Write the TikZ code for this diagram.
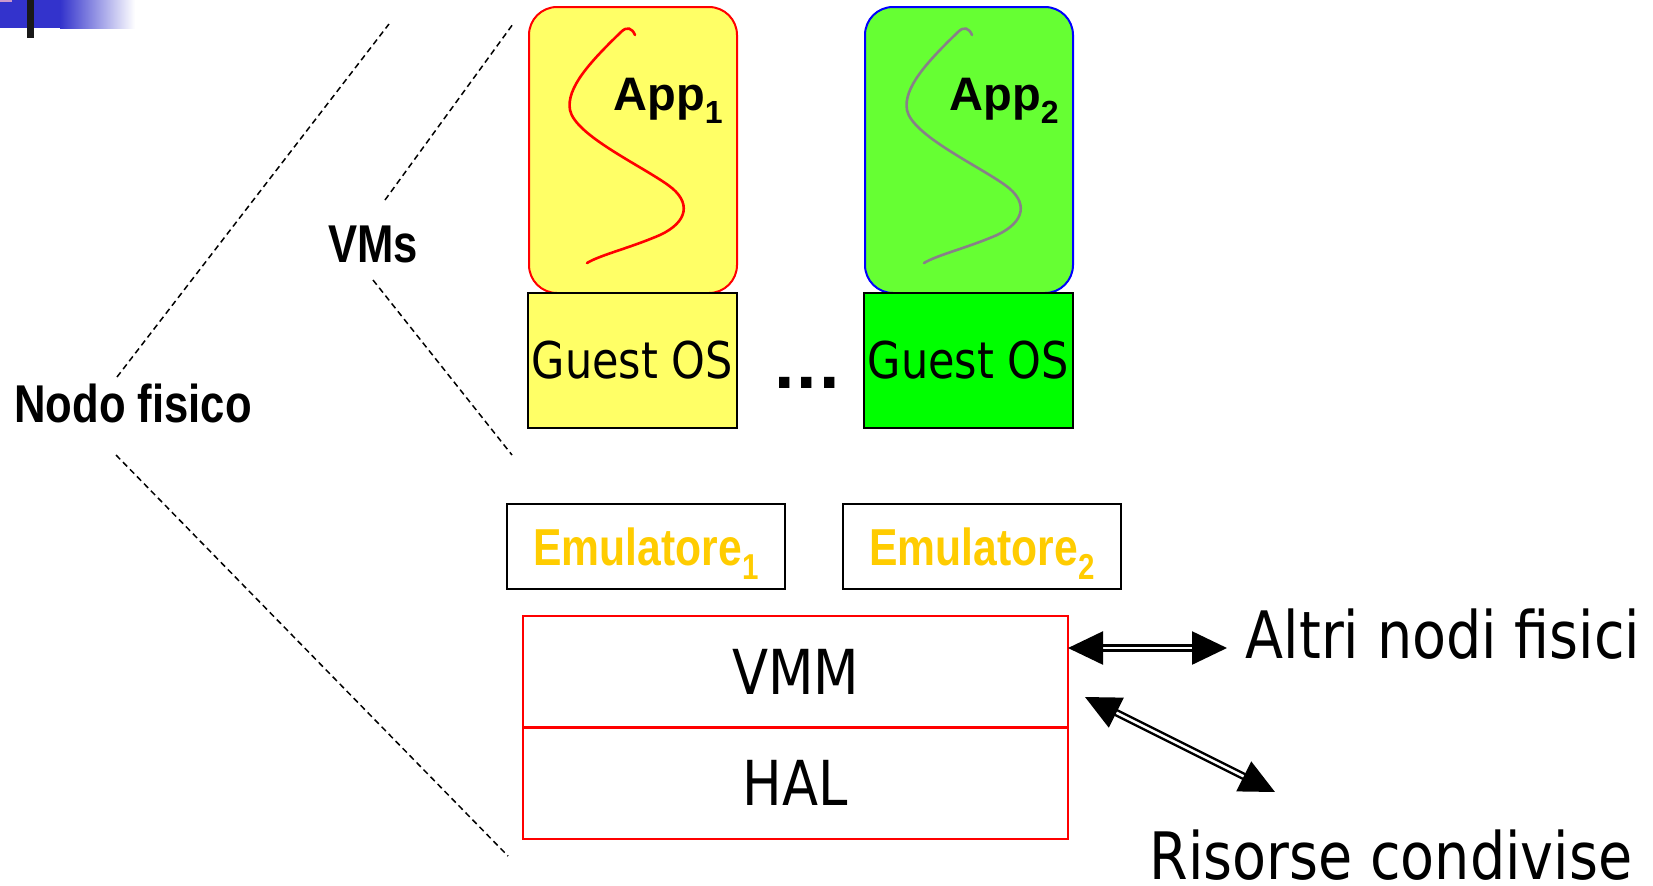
\documentclass[tikz,border=0pt]{standalone}
\usepackage{fontspec}
\setmainfont{Liberation Sans}
\newfontfamily\narrowbold[FakeStretch=0.82]{Liberation Sans}
\newfontfamily\tahomalike[FakeStretch=0.85]{DejaVu Sans}
\newfontfamily\dotsfont{DejaVu Sans}
\usetikzlibrary{arrows.meta}

\definecolor{appyellow}{RGB}{255,255,102}
\definecolor{appgreen}{RGB}{102,255,51}
\definecolor{osgreen}{RGB}{0,255,0}
\definecolor{emugold}{RGB}{255,204,0}
\definecolor{barblue}{RGB}{51,51,204}
\definecolor{barpink}{RGB}{204,153,204}
\definecolor{threadgray}{RGB}{136,128,136}

% lowered index digit: shift, size, text
\newcommand\lowidx[3]{\raisebox{-#1}[0pt][0pt]{\fontsize{#2}{#2}\selectfont #3}}

\begin{document}
\begin{tikzpicture}[
  x=0.5pt, y=-0.5pt,
  appbox/.style={rounded corners=14pt, minimum width=104pt, minimum height=143pt,
                 line width=1pt, inner sep=0pt},
  applabel/.style={inner sep=0pt, font=\bfseries\fontsize{23.5pt}{28pt}\selectfont},
  osbox/.style={draw=black, line width=1pt, minimum width=104.5pt, minimum height=67.5pt,
                inner sep=0pt, font=\tahomalike\fontsize{25.3pt}{30pt}\selectfont},
  emubox/.style={draw=black, line width=1pt, minimum width=139pt, minimum height=42.5pt,
                 inner sep=0pt, text=emugold,
                 font=\narrowbold\bfseries\fontsize{26pt}{30pt}\selectfont},
  layerbox/.style={draw=red, line width=1pt, minimum width=272.5pt, minimum height=55.5pt,
                   inner sep=0pt, font=\tahomalike\fontsize{31pt}{36pt}\selectfont},
  sidelabel/.style={inner sep=0pt, font=\narrowbold\bfseries\fontsize{26.6pt}{30pt}\selectfont},
  bigtext/.style={inner sep=0pt, font=\tahomalike\fontsize{32.7pt}{38pt}\selectfont},
  thread/.style={line width=1.3pt, line cap=round},
  guide/.style={line width=0.75pt, dash pattern=on 3pt off 2pt},
  dblarrow/.style={draw=black, line width=1.2pt, double=white, double distance=1.3pt,
                   {Triangle[length=17.5pt,width=16.5pt]}-{Triangle[length=17.5pt,width=16.5pt]}}
]
\useasboundingbox (0,0) rectangle (1653,885);

% title bar ornament in the corner
\fill[barblue] (0,0) rectangle (60,28);
\shade[left color=barblue, right color=white] (60,0) rectangle (135,28);
\fill[barpink] (0,0) rectangle (12,2);
\fill[black!90] (27,0) rectangle (34,38);

% virtual machines: application and guest OS
\node[appbox, draw=red, fill=appyellow] (app1) at (633,150) {};
\node[appbox, draw=blue, fill=appgreen] (app2) at (969,150) {};

\draw[thread, red] (635,35) .. controls (632,28) and (627,26) .. (621,32)
  .. controls (590,62) and (566,88) .. (570,110)
  .. controls (575,135) and (640,165) .. (668,185)
  .. controls (692,202) and (688,222) .. (660,235)
  .. controls (630,248) and (600,255) .. (587,263);
\draw[thread, threadgray] (972,35) .. controls (969,28) and (964,26) .. (958,32)
  .. controls (927,62) and (903,88) .. (907,110)
  .. controls (912,135) and (977,165) .. (1005,185)
  .. controls (1029,202) and (1025,222) .. (997,235)
  .. controls (967,248) and (937,255) .. (924,263);

\node[applabel, anchor=base west] (app1lbl) at (613,110) {App\lowidx{6.5pt}{16pt}{1}};
\node[applabel, anchor=base west] (app2lbl) at (949,110) {App\lowidx{6.5pt}{16pt}{2}};

\node[osbox, fill=appyellow] (os1) at (632.5,360.5) {Guest OS};
\node[osbox, fill=osgreen] (os2) at (968.5,360.5) {Guest OS};
\node[inner sep=0pt, anchor=base, font=\dotsfont\bfseries\fontsize{29.5pt}{34pt}\selectfont]
  (dots) at (807,388) {...};

% emulators
\node[emubox] (emu1) at (646,546.5) {Emulatore\lowidx{7pt}{18pt}{1}};
\node[emubox] (emu2) at (982,546.5) {Emulatore\lowidx{7pt}{18pt}{2}};

% physical layers
\node[layerbox] (vmm) at (795.5,671.5) {VMM};
\node[layerbox] (hal) at (795.5,783) {HAL};

% side labels and bracket guides
\node[sidelabel, anchor=base] (nodo) at (133,422) {Nodo fisico};
\node[sidelabel, anchor=base] (vms) at (373,262) {VMs};

\coordinate (g1a) at (117,377);  \coordinate (g1b) at (389,24);
\coordinate (g2a) at (385,200);  \coordinate (g2b) at (513,24);
\coordinate (g3a) at (373,280);  \coordinate (g3b) at (512,455);
\coordinate (g4a) at (116,455);  \coordinate (g4b) at (508,856);
\draw[guide] (g1a) -- (g1b);
\draw[guide] (g2a) -- (g2b);
\draw[guide] (g3a) -- (g3b);
\draw[guide] (g4a) -- (g4b);

% links to the outside
\node[bigtext, anchor=base] (altri) at (1443,658) {Altri nodi fisici};
\node[bigtext, anchor=base] (risorse) at (1391,879) {Risorse condivise};

\coordinate (netL) at (1068,648);
\coordinate (netR) at (1227,648);
\coordinate (resA) at (1085,697);
\coordinate (resB) at (1275,792);
\draw[dblarrow] (netL) -- (netR);
\draw[dblarrow] (resA) -- (resB);
\end{tikzpicture}
\end{document}
